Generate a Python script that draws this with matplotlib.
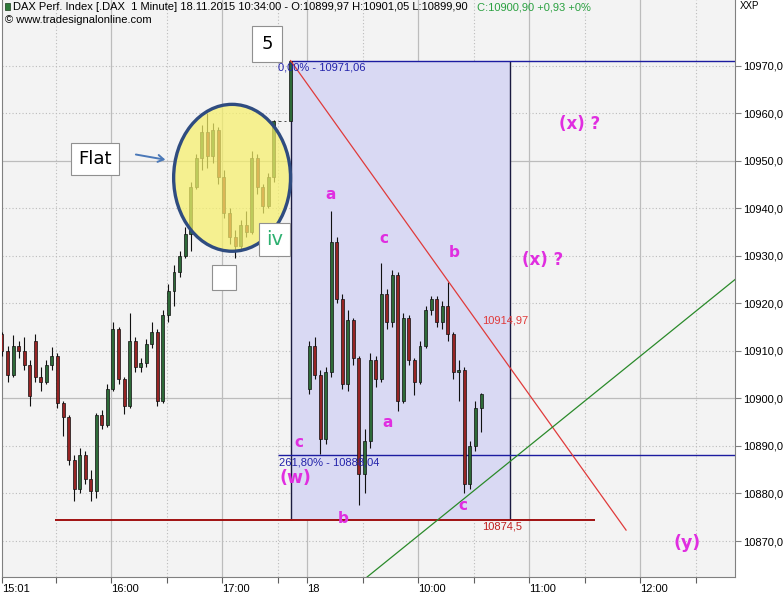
import matplotlib
matplotlib.use("Agg")
import matplotlib.pyplot as plt
from matplotlib.patches import Ellipse, Rectangle, FancyArrowPatch

# 3-minute bars (17.11. afternoon, 18.11. morning)
BAR_STEP = 3
DAY1_FIRST = 1      # 15:01, minutes after 15:00
DAY2_FIRST = 167    # 09:01 on the 18th, on the same session axis

day1_open = [10913.5, 10910, 10905, 10911, 10910, 10907, 10912, 10904.5, 10903.5, 10907,
             10909, 10899, 10896, 10887, 10881, 10888, 10883, 10880.5, 10896.5, 10894.5,
             10902, 10914.5, 10904, 10898.5, 10912, 10906.5, 10907.5, 10911.5, 10914, 10899.5,
             10917.5, 10922.5, 10926.5, 10930, 10934.5, 10944.5, 10950.5, 10956, 10951, 10956.5,
             10946.5, 10939, 10934, 10932, 10936.5, 10935, 10950.5, 10944.5, 10940.5, 10946.5,
             10958.3, 10958.3, 10958.3]
day1_high = [10914, 10911, 10913.3, 10912, 10913, 10908, 10913.5, 10906.5, 10908, 10910.8,
             10909.5, 10899.5, 10896.5, 10888, 10889.5, 10889, 10885, 10897, 10897.5, 10903,
             10916, 10915, 10904.5, 10918, 10913, 10908.5, 10912.5, 10916, 10914.5, 10918.5,
             10924, 10928, 10931, 10936, 10945.5, 10951.5, 10957.5, 10960, 10958, 10957,
             10948, 10940, 10935.5, 10937.5, 10939.5, 10952, 10951.5, 10945, 10947.5, 10958.5,
             10958.3, 10958.3, 10971.06]
day1_low = [10909, 10903.5, 10904.5, 10908.5, 10906, 10898.3, 10903.5, 10901.5, 10903, 10906,
            10898, 10892, 10886, 10878.5, 10880, 10882, 10878.5, 10879, 10893.5, 10894,
            10901.5, 10903, 10896.7, 10898, 10905.5, 10905.5, 10906.5, 10910.5, 10898.5, 10899,
            10916, 10919.5, 10925.5, 10929.5, 10931, 10944, 10948, 10948.5, 10949.5, 10945,
            10938, 10932.5, 10929.6, 10931.5, 10934, 10934.5, 10943, 10939, 10940, 10945.5,
            10958.3, 10958.3, 10958.3]
day1_close = [10910, 10905, 10911, 10910, 10907, 10900.5, 10904.5, 10903.5, 10907, 10909,
              10899, 10896, 10887, 10881, 10888, 10883, 10880.5, 10896.5, 10894.5, 10902,
              10914.5, 10904, 10898.5, 10912, 10906.5, 10907.5, 10911.5, 10914, 10899.5, 10917.5,
              10922.5, 10926.5, 10930, 10934.5, 10944.5, 10950.5, 10956, 10951, 10956.5, 10946.5,
              10939, 10934, 10932, 10936.5, 10935, 10950.5, 10944.5, 10940.5, 10946.5, 10958.3,
              10958.3, 10958.3, 10971.0]

day2_open = [10902, 10911, 10905, 10891.5, 10905.5, 10933, 10921, 10903, 10916.5, 10908.5,
             10884, 10891, 10908, 10904, 10922, 10916, 10926, 10899.5, 10917, 10908,
             10903.5, 10911, 10918.5, 10921, 10916, 10919.5, 10913.5, 10905.5, 10906, 10882,
             10890, 10898]
day2_high = [10912, 10913, 10906, 10906.5, 10939.4, 10934, 10922, 10918.5, 10917, 10909,
             10893.5, 10909.5, 10909, 10928.5, 10923, 10927, 10926.5, 10918, 10917.5, 10908.5,
             10912, 10919.5, 10921.5, 10921.5, 10920.5, 10924.4, 10914, 10908, 10906.5, 10891,
             10899.5, 10901.05]
day2_low = [10901, 10904, 10888.3, 10890.5, 10904.5, 10920, 10902, 10901.5, 10907, 10877.5,
            10880, 10889.5, 10902.5, 10903.5, 10914.5, 10915, 10897.3, 10899, 10907, 10900.8,
            10903, 10910.5, 10917.5, 10915, 10914.5, 10912, 10904, 10899.5, 10880, 10881,
            10889, 10893]
day2_close = [10911, 10905, 10891.5, 10905.5, 10933, 10921, 10903, 10916.5, 10908.5, 10884,
              10891, 10908, 10904, 10922, 10916, 10926, 10899.5, 10917, 10908, 10903.5,
              10911, 10918.5, 10921, 10916, 10919.5, 10913.5, 10905.5, 10906, 10882, 10890,
              10898, 10900.9]

# x axis: session minutes, 15:00 on the 17th = 0, 09:00 on the 18th = 166
tick_pos = [1, 30, 60, 90, 120, 150, 166, 196, 226, 256, 286, 316, 346, 376]
tick_labels = ["15:01", "", "16:00", "", "17:00", "", "18", "", "10:00", "", "11:00", "", "12:00", ""]
hour_lines = [60, 120, 166, 226, 286, 346]
half_hour_lines = [30, 90, 150, 196, 256, 316, 376]
price_ticks = [10870, 10880, 10890, 10900, 10910, 10920, 10930, 10940, 10950, 10960, 10970]

fib_high = 10971.06
fib_ext = 10888.04
box_low = 10874.5

GREEN = "#2e6a38"
RED = "#962424"
MAGENTA = "#e02ee0"
FONT = "Liberation Sans"


def draw_candles(ax, first, opens, highs, lows, closes):
    xs = [first + BAR_STEP * i for i in range(len(opens))]
    ax.vlines(xs, lows, highs, color="#101010", lw=0.8, zorder=3)
    bottoms = [min(o, c) for o, c in zip(opens, closes)]
    heights = [max(abs(c - o), 0.15) for o, c in zip(opens, closes)]
    colors = [GREEN if c >= o else RED for o, c in zip(opens, closes)]
    ax.bar(xs, heights, bottom=bottoms, width=1.6, color=colors,
           edgecolor="#101010", linewidth=0.5, zorder=4)


fig = plt.figure(figsize=(7.83, 6.01), dpi=100, facecolor="white")
ax = fig.add_axes([2 / 783, (601 - 577) / 601, 733 / 783, 577 / 601])
ax.set_facecolor("#f3f3f3")
ax.set_xlim(1.1, 397.3)
ax.set_ylim(10862.43, 10983.8)

for v in price_ticks:
    if v % 50 == 0:
        ax.axhline(v, color="#bcbcbc", lw=0.9, zorder=0)
    else:
        ax.axhline(v, color="#bcbcbc", lw=0.8, ls=(0, (1, 2)), zorder=0)
for t in hour_lines:
    ax.axvline(t, color="#bcbcbc", lw=0.9, zorder=0)
for t in half_hour_lines:
    ax.axvline(t, color="#bcbcbc", lw=0.8, ls=(0, (1, 2)), zorder=0)

# Fibonacci box and levels
ax.add_patch(Rectangle((157, box_low), 275.7 - 157, fib_high - box_low,
                       facecolor="#d9d9f3", edgecolor="none", zorder=1))
ax.vlines([157, 275.7], box_low, fib_high, color="#1a1a40", lw=1.0, zorder=2)
ax.hlines(fib_high, 157, 397.3, color="#1c1ca0", lw=1.0, zorder=2)
ax.hlines(fib_ext, 150, 397.3, color="#1c1ca0", lw=1.0, zorder=2)
ax.hlines(box_low, 29.7, 321.6, color="#a01010", lw=1.4, zorder=2)

draw_candles(ax, DAY1_FIRST, day1_open, day1_high, day1_low, day1_close)
draw_candles(ax, DAY2_FIRST, day2_open, day2_high, day2_low, day2_close)

# trend lines
ax.plot([157, 338.4], [fib_high, 10872.3], color="#e03a3a", lw=0.9, zorder=5)
ax.plot([198.4, 397.3], [10862.43, 10925.0], color="#2a8a2a", lw=0.9, zorder=5)

# "Flat" ellipse over the candles
ax.add_patch(Ellipse((125.4, 10946.4), 63.2, 30.9, facecolor="#f6f06a", alpha=0.72,
                     edgecolor="none", zorder=6))
ax.add_patch(Ellipse((125.4, 10946.4), 63.2, 30.9, facecolor="none",
                     edgecolor="#2f4c80", lw=2.4, zorder=7))

tk = dict(family=FONT, fontsize=8)
ax.text(150.3, fib_high - 0.4, "0,00% - 10971,06", color="#2222aa", va="top", zorder=8, **tk)
ax.text(150.8, fib_ext - 0.4, "261,80% - 10888,04", color="#2222aa", va="top", zorder=8, **tk)
ax.text(260.5, 10916.3, "10914,97", color="#e03a3a", va="center", zorder=8, **tk)
ax.text(260.5, box_low - 0.3, "10874,5", color="#c02020", va="top", zorder=8, **tk)

waves = [("a", 178.4, 10942.8, 11), ("c", 207.6, 10933.7, 11), ("b", 245.4, 10930.6, 11),
         ("a", 209.2, 10895.0, 11), ("c", 161.6, 10890.8, 11), ("(w)", 159.5, 10883.2, 12.5),
         ("b", 185.4, 10874.8, 11), ("c", 250.3, 10877.4, 11),
         ("(x) ?", 313.5, 10957.7, 12), ("(x) ?", 293.5, 10929.1, 12), ("(y)", 371.4, 10869.6, 12.5)]
for label, x, y, size in waves:
    ax.text(x, y, label, color=MAGENTA, fontsize=size, fontweight="bold", family="DejaVu Sans",
            ha="center", va="center", zorder=8)

box = dict(boxstyle="square,pad=0.35", facecolor="white", edgecolor="#909090", lw=0.8)
ax.text(144.3, 10974.6, "5", fontsize=13, family="DejaVu Sans", ha="center", va="center",
        bbox=dict(box, boxstyle="square,pad=0.5"), zorder=9)
ax.text(51.1, 10950.4, "Flat", fontsize=13, family="DejaVu Sans", ha="center", va="center",
        bbox=dict(box, boxstyle="square,pad=0.4"), zorder=9)
ax.text(148.4, 10933.4, "iv", fontsize=14, color="#2db070", family="DejaVu Sans",
        ha="center", va="center", bbox=box, zorder=9)
ax.add_patch(Rectangle((114.6, 10922.8), 13.0, 5.3, facecolor="white",
                       edgecolor="#909090", lw=0.8, zorder=9))
ax.add_patch(FancyArrowPatch((71.9, 10951.4), (90.8, 10950.1), arrowstyle="->,head_length=4,head_width=2.5",
                             color="#4a78b8", lw=1.4, zorder=9))

# axes styling
for side in ("left", "right", "bottom"):
    ax.spines[side].set_color("#808080")
ax.spines["top"].set_visible(False)
ax.yaxis.tick_right()
ax.set_yticks(price_ticks)
ax.set_yticklabels([f"{v:.1f}".replace(".", ",") for v in price_ticks], family=FONT, fontsize=8)
ax.tick_params(axis="y", length=4, width=0.8, color="#808080", pad=2)
ax.set_xticks(tick_pos)
ax.set_xticklabels(tick_labels, family=FONT, fontsize=8, ha="left")
ax.tick_params(axis="x", length=4, width=0.8, color="#606060", pad=1)

fig.text(13 / 783, 1 - 7 / 601, "DAX Perf. Index [.DAX  1 Minute] 18.11.2015 10:34:00 - O:10899,97 H:10901,05 L:10899,90",
         family=FONT, fontsize=8, va="center")
fig.text(477 / 783, 1 - 7 / 601, "C:10900,90 +0,93 +0%", family=FONT, fontsize=8,
         color="#2aa040", va="center")
fig.text(5 / 783, 1 - 20 / 601, "\u00a9 www.tradesignalonline.com", family=FONT, fontsize=8, va="center")
fig.text(740 / 783, 1 - 6 / 601, "XXP", family=FONT, fontsize=7, va="center")
fig.patches.append(Rectangle((5 / 783, 1 - 10 / 601), 5 / 783, 7 / 601, transform=fig.transFigure,
                             facecolor="#2e7a3a", edgecolor="#1a3a1a", lw=0.5))

fig.savefig("out.png", dpi=100, facecolor="white")
